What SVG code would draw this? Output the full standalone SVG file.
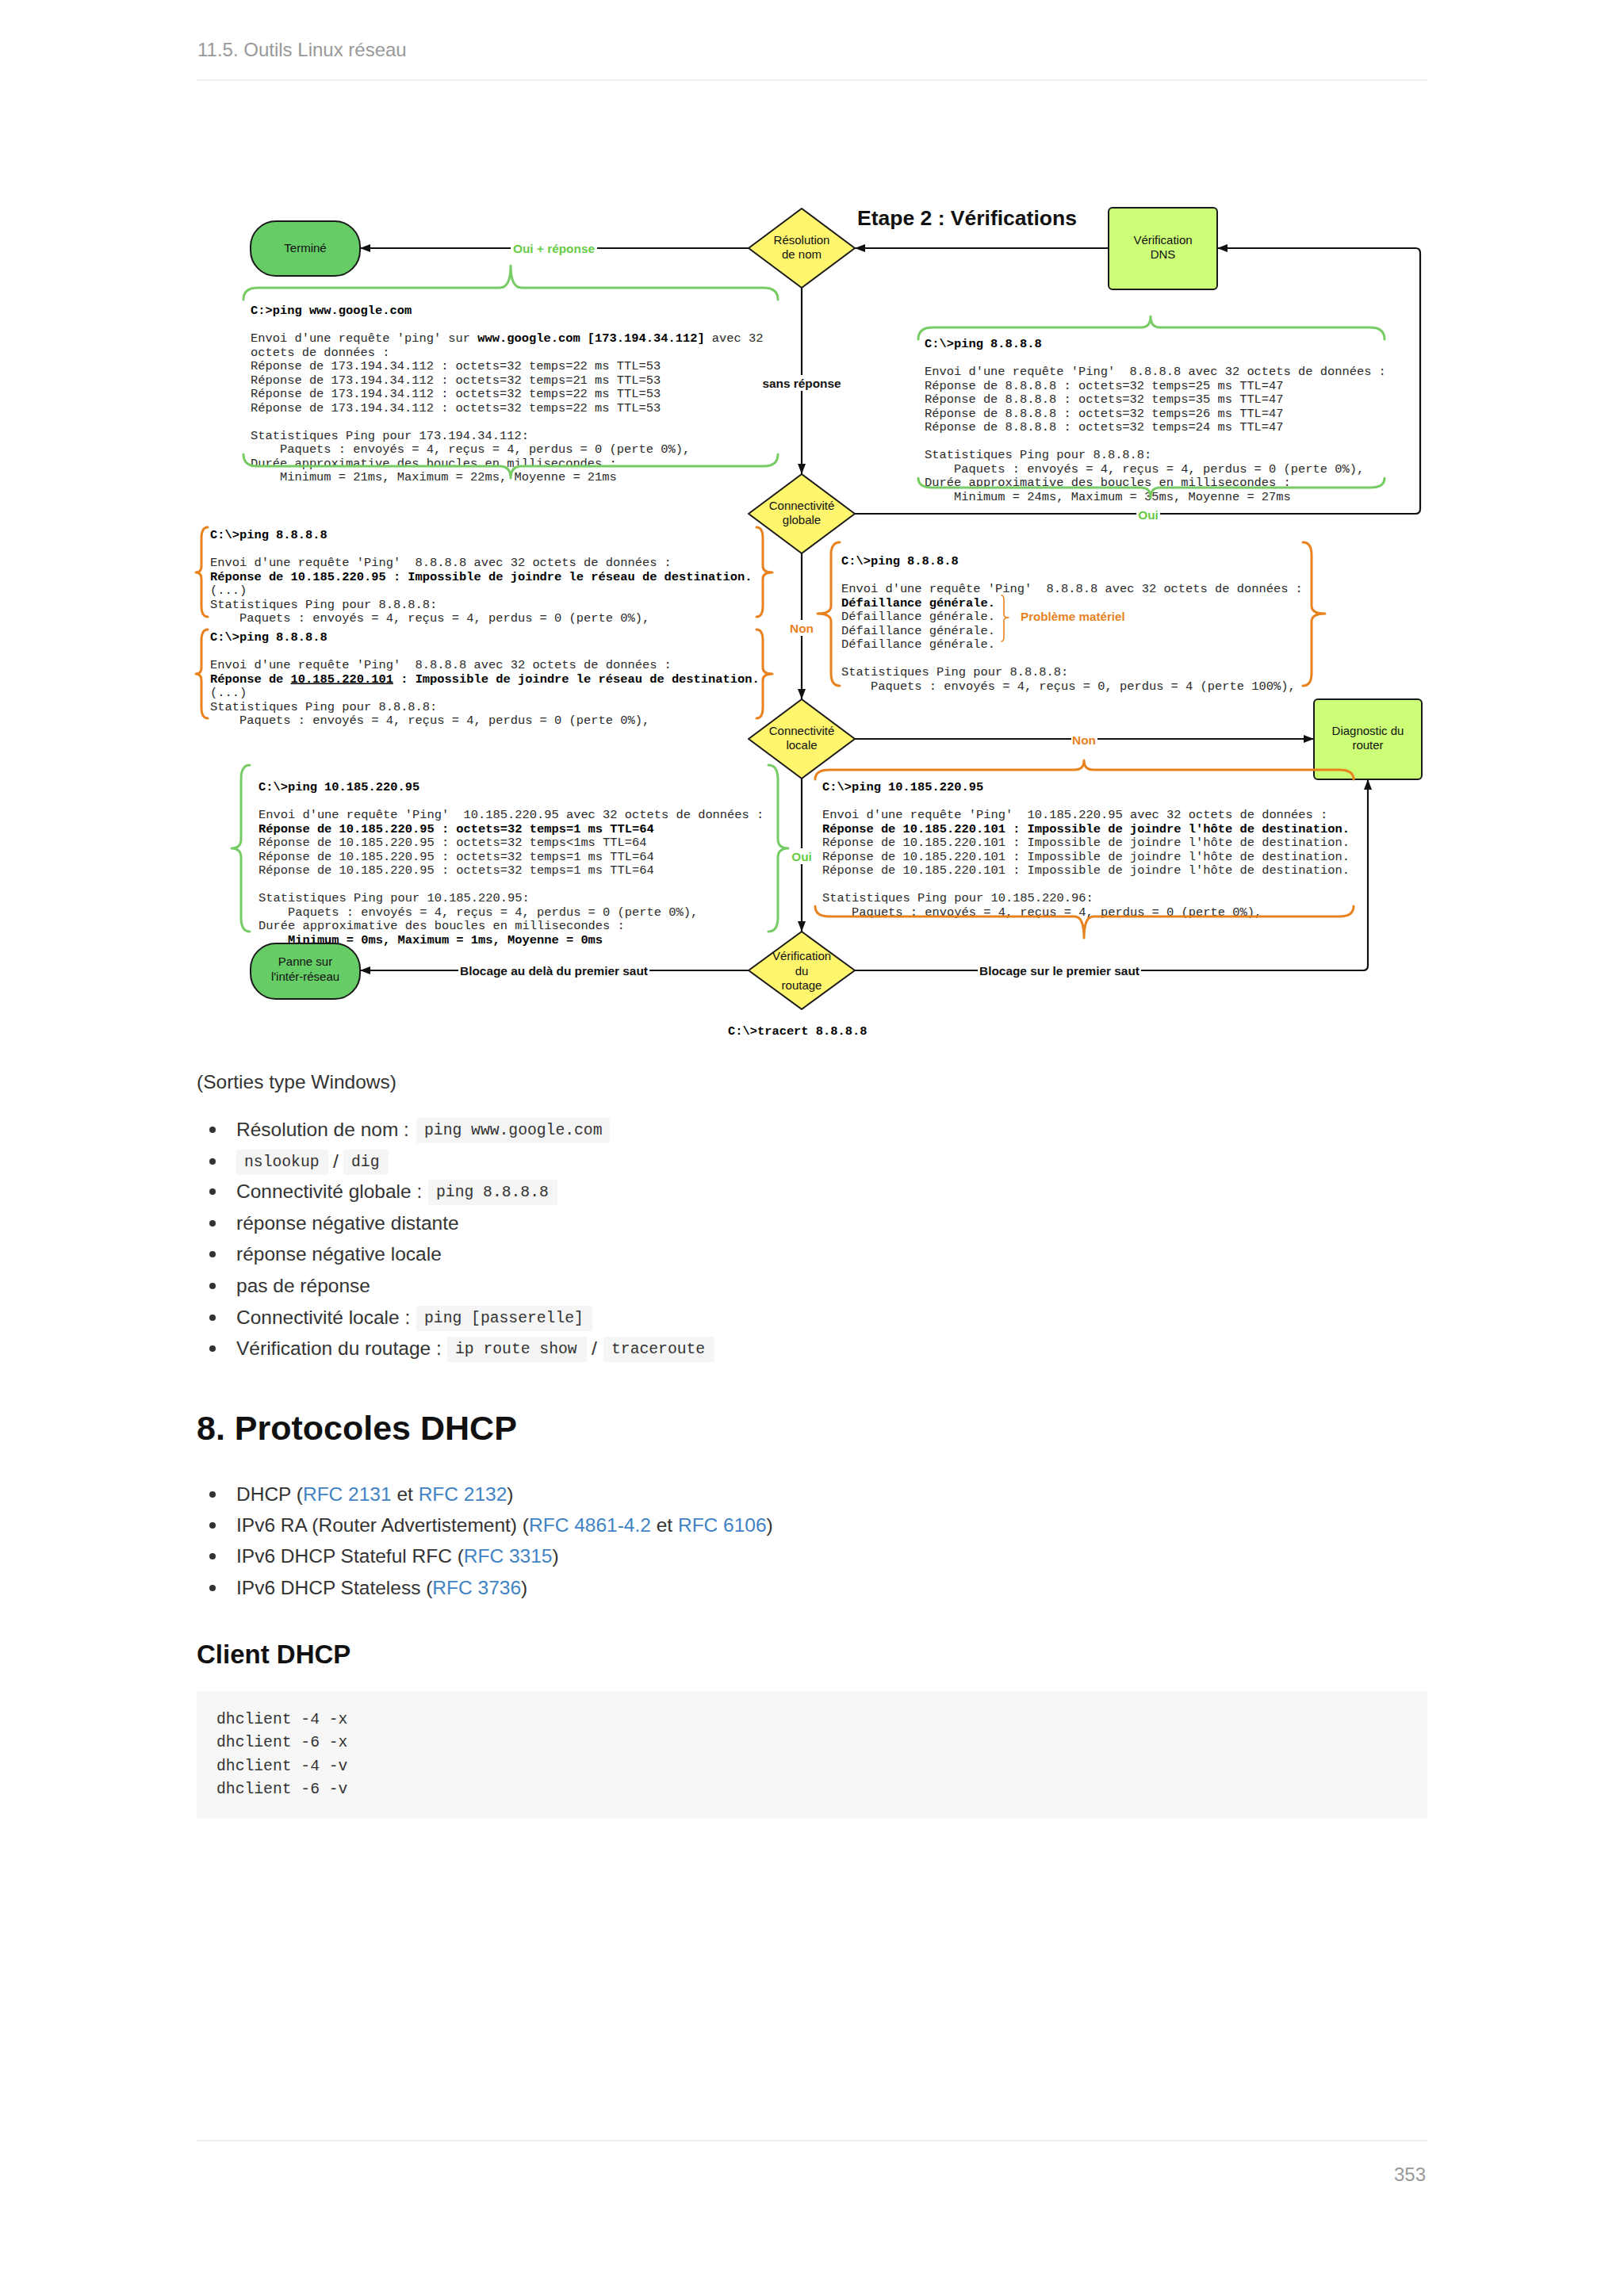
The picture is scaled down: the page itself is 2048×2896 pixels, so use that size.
<svg xmlns="http://www.w3.org/2000/svg" width="2048" height="2896" viewBox="0 0 2048 2896">
<style>
.mono{font-family:"Liberation Mono","DejaVu Sans Mono",monospace;font-size:15.4px;fill:#2a2a2a;white-space:pre}
.b{font-weight:bold;fill:#000}
.lbl{font-family:"Liberation Sans",Arial,sans-serif;font-size:15px;fill:#111;text-anchor:middle}
.el{font-family:"Liberation Sans",Arial,sans-serif;font-size:15.4px;font-weight:bold;text-anchor:middle}
.conn{fill:none;stroke:#111;stroke-width:2.2;stroke-linejoin:round}
.nd{stroke:#1a1a1a;stroke-width:2;stroke-linejoin:round}
.term{fill:#66cc66}
.box{fill:#ccff77}
.dia{fill:#fff66e}
.brg{fill:none;stroke:#77cc66;stroke-width:3;stroke-linecap:round;stroke-linejoin:round}
.bro{fill:none;stroke:#e8821e;stroke-width:3;stroke-linecap:round;stroke-linejoin:round}
.green{fill:#66cc44}
.orange{fill:#e8821e}
.body{font-family:"Liberation Sans",Arial,sans-serif;font-size:24.5px;fill:#333}
.code{font-family:"Liberation Mono","DejaVu Sans Mono",monospace;font-size:19.7px;fill:#333}
.cbg{fill:#f5f5f5}
.link{fill:#4183c4}
.gray{font-family:"Liberation Sans",Arial,sans-serif;font-size:24px;fill:#999}
</style>
<defs>
<marker id="ah" viewBox="0 0 13 10" markerWidth="13" markerHeight="10" refX="13" refY="5" orient="auto" markerUnits="userSpaceOnUse"><path d="M0,0 L13,5 L0,10 Z" fill="#111"/></marker>
</defs>
<rect x="0" y="0" width="2048" height="2896" fill="#fff"/>

<!-- page header -->
<text class="gray" x="249" y="71">11.5. Outils Linux réseau</text>
<rect x="248" y="100" width="1552" height="2" fill="#eeeeee"/>

<!-- title -->
<text x="1081" y="284" style="font-family:'Liberation Sans',Arial,sans-serif;font-size:26.5px;font-weight:bold;fill:#111">Etape 2 : Vérifications</text>

<!-- text block A -->
<g id="block-google">
<text class="mono b" x="316" y="396">C:&gt;ping www.google.com</text>
<text class="mono" x="316" y="431">Envoi d'une requête 'ping' sur <tspan class="b">www.google.com [173.194.34.112]</tspan> avec 32</text>
<text class="mono" x="316" y="448.5">octets de données :</text>
<text class="mono" x="316" y="466">Réponse de 173.194.34.112 : octets=32 temps=22 ms TTL=53</text>
<text class="mono" x="316" y="483.5">Réponse de 173.194.34.112 : octets=32 temps=21 ms TTL=53</text>
<text class="mono" x="316" y="501">Réponse de 173.194.34.112 : octets=32 temps=22 ms TTL=53</text>
<text class="mono" x="316" y="518.5">Réponse de 173.194.34.112 : octets=32 temps=22 ms TTL=53</text>
<text class="mono" x="316" y="553.5">Statistiques Ping pour 173.194.34.112:</text>
<text class="mono" x="316" y="571">&#160;&#160;&#160;&#160;Paquets : envoyés = 4, reçus = 4, perdus = 0 (perte 0%),</text>
<text class="mono" x="316" y="588.5">Durée approximative des boucles en millisecondes :</text>
<text class="mono" x="316" y="606">&#160;&#160;&#160;&#160;Minimum = 21ms, Maximum = 22ms, Moyenne = 21ms</text>
</g>

<!-- text block B -->
<g id="block-8888-ok">
<text class="mono b" x="1166" y="438">C:\&gt;ping 8.8.8.8</text>
<text class="mono" x="1166" y="473">Envoi d'une requête 'Ping'&#160;&#160;8.8.8.8 avec 32 octets de données :</text>
<text class="mono" x="1166" y="490.5">Réponse de 8.8.8.8 : octets=32 temps=25 ms TTL=47</text>
<text class="mono" x="1166" y="508">Réponse de 8.8.8.8 : octets=32 temps=35 ms TTL=47</text>
<text class="mono" x="1166" y="525.5">Réponse de 8.8.8.8 : octets=32 temps=26 ms TTL=47</text>
<text class="mono" x="1166" y="543">Réponse de 8.8.8.8 : octets=32 temps=24 ms TTL=47</text>
<text class="mono" x="1166" y="578">Statistiques Ping pour 8.8.8.8:</text>
<text class="mono" x="1166" y="595.5">&#160;&#160;&#160;&#160;Paquets : envoyés = 4, reçus = 4, perdus = 0 (perte 0%),</text>
<text class="mono" x="1166" y="613">Durée approximative des boucles en millisecondes :</text>
<text class="mono" x="1166" y="630.5">&#160;&#160;&#160;&#160;Minimum = 24ms, Maximum = 35ms, Moyenne = 27ms</text>
</g>

<!-- text block C -->
<g id="block-distant-1">
<text class="mono b" x="265" y="679">C:\&gt;ping 8.8.8.8</text>
<text class="mono" x="265" y="714">Envoi d'une requête 'Ping'&#160;&#160;8.8.8.8 avec 32 octets de données :</text>
<text class="mono b" x="265" y="731.5">Réponse de 10.185.220.95 : Impossible de joindre le réseau de destination.</text>
<text class="mono" x="265" y="749">(...)</text>
<text class="mono" x="265" y="766.5">Statistiques Ping pour 8.8.8.8:</text>
<text class="mono" x="265" y="784">&#160;&#160;&#160;&#160;Paquets : envoyés = 4, reçus = 4, perdus = 0 (perte 0%),</text>
</g>

<!-- text block D -->
<g id="block-distant-2">
<text class="mono b" x="265" y="808">C:\&gt;ping 8.8.8.8</text>
<text class="mono" x="265" y="843">Envoi d'une requête 'Ping'&#160;&#160;8.8.8.8 avec 32 octets de données :</text>
<text class="mono b" x="265" y="860.5">Réponse de <tspan text-decoration="underline">10.185.220.101</tspan> : Impossible de joindre le réseau de destination.</text>
<text class="mono" x="265" y="878">(...)</text>
<text class="mono" x="265" y="895.5">Statistiques Ping pour 8.8.8.8:</text>
<text class="mono" x="265" y="913">&#160;&#160;&#160;&#160;Paquets : envoyés = 4, reçus = 4, perdus = 0 (perte 0%),</text>
</g>

<!-- text block E -->
<g id="block-defaillance">
<text class="mono b" x="1061" y="712">C:\&gt;ping 8.8.8.8</text>
<text class="mono" x="1061" y="747">Envoi d'une requête 'Ping'&#160;&#160;8.8.8.8 avec 32 octets de données :</text>
<text class="mono b" x="1061" y="764.5">Défaillance générale.</text>
<text class="mono" x="1061" y="782">Défaillance générale.</text>
<text class="mono" x="1061" y="799.5">Défaillance générale.</text>
<text class="mono" x="1061" y="817">Défaillance générale.</text>
<text class="mono" x="1061" y="852">Statistiques Ping pour 8.8.8.8:</text>
<text class="mono" x="1061" y="869.5">&#160;&#160;&#160;&#160;Paquets : envoyés = 4, reçus = 0, perdus = 4 (perte 100%),</text>
<text x="1287" y="782.5" style="font-family:'Liberation Sans',Arial,sans-serif;font-size:15.2px;font-weight:bold" class="orange">Problème matériel</text>
</g>

<!-- text block F -->
<g id="block-gw-ok">
<text class="mono b" x="326" y="997">C:\&gt;ping 10.185.220.95</text>
<text class="mono" x="326" y="1032">Envoi d'une requête 'Ping'&#160;&#160;10.185.220.95 avec 32 octets de données :</text>
<text class="mono b" x="326" y="1049.5">Réponse de 10.185.220.95 : octets=32 temps=1 ms TTL=64</text>
<text class="mono" x="326" y="1067">Réponse de 10.185.220.95 : octets=32 temps&lt;1ms TTL=64</text>
<text class="mono" x="326" y="1084.5">Réponse de 10.185.220.95 : octets=32 temps=1 ms TTL=64</text>
<text class="mono" x="326" y="1102">Réponse de 10.185.220.95 : octets=32 temps=1 ms TTL=64</text>
<text class="mono" x="326" y="1137">Statistiques Ping pour 10.185.220.95:</text>
<text class="mono" x="326" y="1154.5">&#160;&#160;&#160;&#160;Paquets : envoyés = 4, reçus = 4, perdus = 0 (perte 0%),</text>
<text class="mono" x="326" y="1172">Durée approximative des boucles en millisecondes :</text>
<text class="mono b" x="326" y="1189.5">&#160;&#160;&#160;&#160;Minimum = 0ms, Maximum = 1ms, Moyenne = 0ms</text>
</g>

<!-- text block G -->
<g id="block-gw-ko">
<text class="mono b" x="1037" y="997">C:\&gt;ping 10.185.220.95</text>
<text class="mono" x="1037" y="1032">Envoi d'une requête 'Ping'&#160;&#160;10.185.220.95 avec 32 octets de données :</text>
<text class="mono b" x="1037" y="1049.5">Réponse de 10.185.220.101 : Impossible de joindre l'hôte de destination.</text>
<text class="mono" x="1037" y="1067">Réponse de 10.185.220.101 : Impossible de joindre l'hôte de destination.</text>
<text class="mono" x="1037" y="1084.5">Réponse de 10.185.220.101 : Impossible de joindre l'hôte de destination.</text>
<text class="mono" x="1037" y="1102">Réponse de 10.185.220.101 : Impossible de joindre l'hôte de destination.</text>
<text class="mono" x="1037" y="1137">Statistiques Ping pour 10.185.220.96:</text>
<text class="mono" x="1037" y="1154.5">&#160;&#160;&#160;&#160;Paquets : envoyés = 4, reçus = 4, perdus = 0 (perte 0%),</text>
</g>

<text class="mono b" x="918" y="1305">C:\&gt;tracert 8.8.8.8</text>

<!-- connectors -->
<g id="connectors">
<path class="conn" d="M1398,313 L1078,313" marker-end="url(#ah)"/>
<path class="conn" d="M944,313 L454,313" marker-end="url(#ah)"/>
<path class="conn" d="M1011,363 L1011,598" marker-end="url(#ah)"/>
<path class="conn" d="M1078,648 L1785,648 Q1791,648 1791,642 L1791,319 Q1791,313 1785,313 L1535,313" marker-end="url(#ah)"/>
<path class="conn" d="M1011,698 L1011,882" marker-end="url(#ah)"/>
<path class="conn" d="M1078,932 L1657,932" marker-end="url(#ah)"/>
<path class="conn" d="M1011,982 L1011,1175" marker-end="url(#ah)"/>
<path class="conn" d="M944,1224 L454,1224" marker-end="url(#ah)"/>
<path class="conn" d="M1078,1224 L1719,1224 Q1725,1224 1725,1218 L1725,983" marker-end="url(#ah)"/>
<rect x="644" y="303" width="109" height="20" fill="#fff"/>
<text class="el green" x="698.5" y="318.5">Oui + réponse</text>
<rect x="959" y="473" width="104" height="20" fill="#fff"/>
<text class="el" x="1011" y="488.5" fill="#111">sans réponse</text>
<rect x="1433" y="639" width="30" height="20" fill="#fff"/>
<text class="el green" x="1448" y="654.5">Oui</text>
<rect x="995" y="782" width="33" height="20" fill="#fff"/>
<text class="el orange" x="1011" y="797.5">Non</text>
<rect x="1351" y="923" width="33" height="20" fill="#fff"/>
<text class="el orange" x="1367" y="938.5">Non</text>
<rect x="997" y="1070" width="29" height="20" fill="#fff"/>
<text class="el green" x="1011" y="1085.5">Oui</text>
<rect x="578" y="1214" width="241" height="20" fill="#fff"/>
<text class="el" x="698.5" y="1229.5" fill="#111">Blocage au delà du premier saut</text>
<rect x="1233" y="1214" width="206" height="20" fill="#fff"/>
<text class="el" x="1336" y="1229.5" fill="#111">Blocage sur le premier saut</text>
</g>

<!-- nodes -->
<g id="node-termine">
<rect class="nd term" x="316" y="279" width="138" height="69" rx="32" ry="32"/>
<text class="lbl" x="385" y="318">Terminé</text>
</g>
<g id="node-resolution">
<polygon class="nd dia" points="1011,263 1078,313 1011,363 944,313"/>
<text class="lbl" x="1011" y="308">Résolution</text>
<text class="lbl" x="1011" y="326">de nom</text>
</g>
<g id="node-dns">
<rect class="nd box" x="1398" y="262" width="137" height="103" rx="5"/>
<text class="lbl" x="1466.5" y="308">Vérification</text>
<text class="lbl" x="1466.5" y="326">DNS</text>
</g>
<g id="node-globale">
<polygon class="nd dia" points="1011,598 1078,648 1011,698 944,648"/>
<text class="lbl" x="1011" y="642.5">Connectivité</text>
<text class="lbl" x="1011" y="661">globale</text>
</g>
<g id="node-locale">
<polygon class="nd dia" points="1011,882 1078,932 1011,982 944,932"/>
<text class="lbl" x="1011" y="927">Connectivité</text>
<text class="lbl" x="1011" y="945">locale</text>
</g>
<g id="node-diagnostic">
<rect class="nd box" x="1657" y="882" width="136" height="101" rx="5"/>
<text class="lbl" x="1725" y="927">Diagnostic du</text>
<text class="lbl" x="1725" y="945">router</text>
</g>
<g id="node-routage">
<polygon class="nd dia" points="1011,1175 1078,1224 1011,1273 944,1224"/>
<text class="lbl" x="1011" y="1211">Vérification</text>
<text class="lbl" x="1011" y="1230">du</text>
<text class="lbl" x="1011" y="1248">routage</text>
</g>
<g id="node-panne">
<rect class="nd term" x="316" y="1190" width="138" height="70" rx="32" ry="32"/>
<text class="lbl" x="385" y="1218">Panne sur</text>
<text class="lbl" x="385" y="1237">l'intér-réseau</text>
</g>

<!-- braces -->
<g id="braces">
<path class="brg" d="M307,378 Q307,363 325,363 L630,363 Q644,363 644,335 Q644,363 658,363 L963,363 Q981,363 981,378"/>
<path class="brg" d="M307,573 Q307,588 325,588 L630,588 Q644,588 644,603 Q644,588 658,588 L963,588 Q981,588 981,573"/>
<path class="brg" d="M1158,428 Q1158,413 1176,413 L1439,413 Q1451,413 1451,399 Q1451,413 1463,413 L1728,413 Q1746,413 1746,428"/>
<path class="brg" d="M1158,603 Q1158,615 1176,615 L1439,615 Q1451,615 1451,628 Q1451,615 1463,615 L1728,615 Q1746,615 1746,603"/>
<path class="bro" d="M262,665 Q254,665 254,679 L254,714 Q254,722 247,722 Q254,722 254,730 L254,764 Q254,778 262,778"/>
<path class="bro" d="M954,665 Q962,665 962,679 L962,714 Q962,722 974,722 Q962,722 962,730 L962,764 Q962,778 954,778"/>
<path class="bro" d="M262,794 Q254,794 254,808 L254,842 Q254,850 247,850 Q254,850 254,858 L254,892 Q254,906 262,906"/>
<path class="bro" d="M954,794 Q962,794 962,808 L962,842 Q962,850 974,850 Q962,850 962,858 L962,892 Q962,906 954,906"/>
<path class="bro" d="M1059,684 Q1048,684 1048,700 L1048,764 Q1048,774 1031,774 Q1048,774 1048,784 L1048,849 Q1048,865 1059,865"/>
<path class="bro" d="M1643,684 Q1654,684 1654,700 L1654,764 Q1654,774 1671,774 Q1654,774 1654,784 L1654,849 Q1654,865 1643,865"/>
<path class="bro" style="stroke-width:1.6" d="M1263,751 Q1266,751 1266,757 L1266,775 Q1266,779 1272,779 Q1266,779 1266,783 L1266,803 Q1266,809 1263,809"/>
<path class="bro" d="M1028,983 Q1028,971 1046,971 L1355,971 Q1367,971 1367,959 Q1367,971 1379,971 L1689,971 Q1707,971 1707,983"/>
<path class="bro" d="M1028,1143 Q1028,1156 1046,1156 L1355,1156 Q1367,1156 1367,1183 Q1367,1156 1379,1156 L1689,1156 Q1707,1156 1707,1143"/>
<path class="brg" d="M315,965 Q304,965 304,983 L304,1058 Q304,1070 292,1070 Q304,1070 304,1082 L304,1157 Q304,1175 315,1175"/>
<path class="brg" d="M969,965 Q981,965 981,983 L981,1058 Q981,1070 994,1070 Q981,1070 981,1082 L981,1157 Q981,1175 969,1175"/>
</g>

<!-- body text -->
<text class="body" x="248" y="1373">(Sorties type Windows)</text>
<g id="list1">
<circle cx="268" cy="1425" r="4" fill="#333"/>
<text class="body" x="298" y="1433">Résolution de nom :</text>
<rect class="cbg" x="525" y="1410" width="244" height="32" rx="3"/>
<text class="code" x="535" y="1431">ping www.google.com</text>

<circle cx="268" cy="1465" r="4" fill="#333"/>
<rect class="cbg" x="298" y="1450" width="116" height="32" rx="3"/>
<text class="code" x="308" y="1471">nslookup</text>
<text class="body" x="420" y="1473">/</text>
<rect class="cbg" x="433" y="1450" width="57" height="32" rx="3"/>
<text class="code" x="443" y="1471">dig</text>

<circle cx="268" cy="1503" r="4" fill="#333"/>
<text class="body" x="298" y="1511">Connectivité globale :</text>
<rect class="cbg" x="540" y="1488" width="163" height="32" rx="3"/>
<text class="code" x="550" y="1509">ping 8.8.8.8</text>

<circle cx="268" cy="1543" r="4" fill="#333"/>
<text class="body" x="298" y="1551">réponse négative distante</text>
<circle cx="268" cy="1582" r="4" fill="#333"/>
<text class="body" x="298" y="1590">réponse négative locale</text>
<circle cx="268" cy="1622" r="4" fill="#333"/>
<text class="body" x="298" y="1630">pas de réponse</text>

<circle cx="268" cy="1662" r="4" fill="#333"/>
<text class="body" x="298" y="1670">Connectivité locale :</text>
<rect class="cbg" x="525" y="1647" width="222" height="32" rx="3"/>
<text class="code" x="535" y="1668">ping [passerelle]</text>

<circle cx="268" cy="1701" r="4" fill="#333"/>
<text class="body" x="298" y="1709">Vérification du routage :</text>
<rect class="cbg" x="564" y="1686" width="176" height="32" rx="3"/>
<text class="code" x="574" y="1707">ip route show</text>
<text class="body" x="746" y="1709">/</text>
<rect class="cbg" x="761" y="1686" width="140" height="32" rx="3"/>
<text class="code" x="771" y="1707">traceroute</text>
</g>

<text x="248" y="1816" style="font-family:'Liberation Sans',Arial,sans-serif;font-size:43px;font-weight:bold;fill:#111">8. Protocoles DHCP</text>

<g id="list2">
<circle cx="268" cy="1885" r="4" fill="#333"/>
<text class="body" x="298" y="1893">DHCP (<tspan class="link">RFC 2131</tspan> et <tspan class="link">RFC 2132</tspan>)</text>
<circle cx="268" cy="1924" r="4" fill="#333"/>
<text class="body" x="298" y="1932">IPv6 RA (Router Advertistement) (<tspan class="link">RFC 4861-4.2</tspan> et <tspan class="link">RFC 6106</tspan>)</text>
<circle cx="268" cy="1963" r="4" fill="#333"/>
<text class="body" x="298" y="1971">IPv6 DHCP Stateful RFC (<tspan class="link">RFC 3315</tspan>)</text>
<circle cx="268" cy="2003" r="4" fill="#333"/>
<text class="body" x="298" y="2011">IPv6 DHCP Stateless (<tspan class="link">RFC 3736</tspan>)</text>
</g>

<text x="248" y="2098" style="font-family:'Liberation Sans',Arial,sans-serif;font-size:33px;font-weight:bold;fill:#111">Client DHCP</text>

<rect x="248" y="2133" width="1552" height="161" fill="#f7f7f7"/>
<text class="code" x="273" y="2174">dhclient -4 -x</text>
<text class="code" x="273" y="2203">dhclient -6 -x</text>
<text class="code" x="273" y="2233">dhclient -4 -v</text>
<text class="code" x="273" y="2262">dhclient -6 -v</text>

<!-- footer -->
<rect x="248" y="2699" width="1552" height="2" fill="#eeeeee"/>
<text class="gray" x="1798" y="2751" text-anchor="end">353</text>
</svg>
